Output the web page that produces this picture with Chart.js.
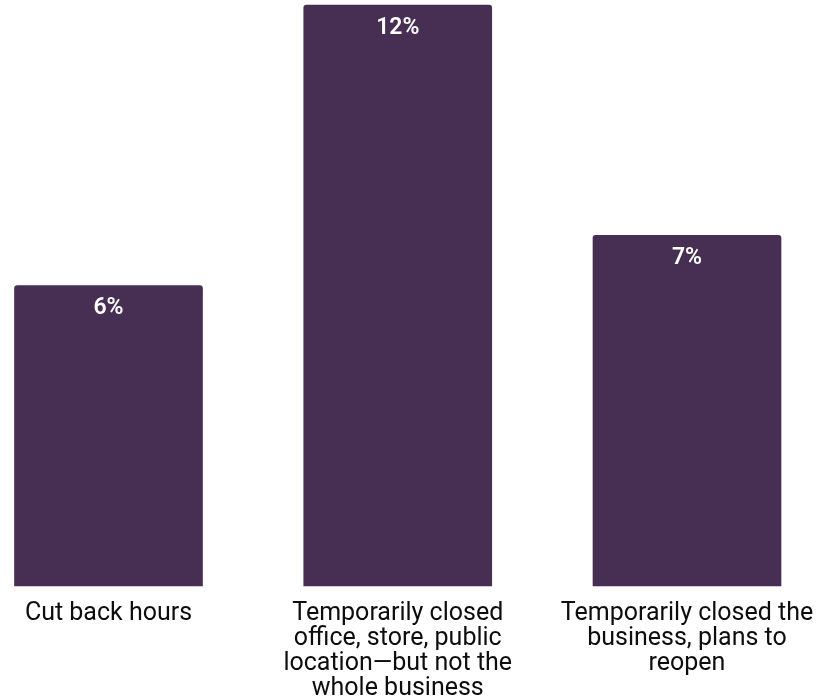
<!DOCTYPE html>
<html lang="en">
<head>
    <meta charset="UTF-8" />
    <title>Business changes</title>
    <script src="https://cdn.jsdelivr.net/npm/chart.js"></script>
    <style>
        body { margin: 0; background: #fff; }
    </style>
</head>
<body>
    <canvas id="chart" width="823" height="700"></canvas>

    <script>
        const categories = [
            ["Cut back hours"],
            ["Temporarily closed", "office, store, public", "location\u2014but not the", "whole business"],
            ["Temporarily closed the", "business, plans to", "reopen"]
        ];
        const values = [6.0, 11.6, 7.0];
        const valueLabels = ["6%", "12%", "7%"];

        // draws the % text inside the top of each bar
        const barLabels = {
            id: 'barLabels',
            afterDatasetsDraw(chart) {
                const ctx = chart.ctx;
                const meta = chart.getDatasetMeta(0);
                ctx.save();
                ctx.fillStyle = '#ffffff';
                ctx.font = '600 23px Roboto, sans-serif';
                ctx.textAlign = 'center';
                ctx.textBaseline = 'middle';
                meta.data.forEach((bar, i) => {
                    ctx.fillText(valueLabels[i], bar.x, bar.y + 23);
                });
                ctx.restore();
            }
        };

        const ctx = document.getElementById('chart').getContext('2d');
        new Chart(ctx, {
            type: 'bar',
            data: {
                labels: categories,
                datasets: [{
                    data: values,
                    backgroundColor: '#462f53',
                    barThickness: 188,
                    borderRadius: { topLeft: 3, topRight: 3 },
                    borderSkipped: 'bottom',
                    clip: false
                }]
            },
            options: {
                responsive: false,
                animation: false,
                layout: { padding: { left: 108.5, right: 136, top: 0, bottom: 0 } },
                plugins: {
                    legend: { display: false },
                    tooltip: { enabled: false }
                },
                scales: {
                    x: {
                        offset: false,
                        grid: { display: false, drawTicks: false },
                        border: { display: false },
                        afterFit(scale) {
                            scale.height = 114;
                            scale.paddingLeft = 0;
                            scale.paddingRight = 0;
                        },
                        ticks: {
                            padding: 15,
                            maxRotation: 0,
                            autoSkip: false,
                            color: '#0d0d0d',
                            font: { family: 'Roboto, sans-serif', size: 25, lineHeight: '25px' }
                        }
                    },
                    y: {
                        display: false,
                        min: 0,
                        max: 11.7
                    }
                }
            },
            plugins: [barLabels]
        });
    </script>
</body>
</html>
